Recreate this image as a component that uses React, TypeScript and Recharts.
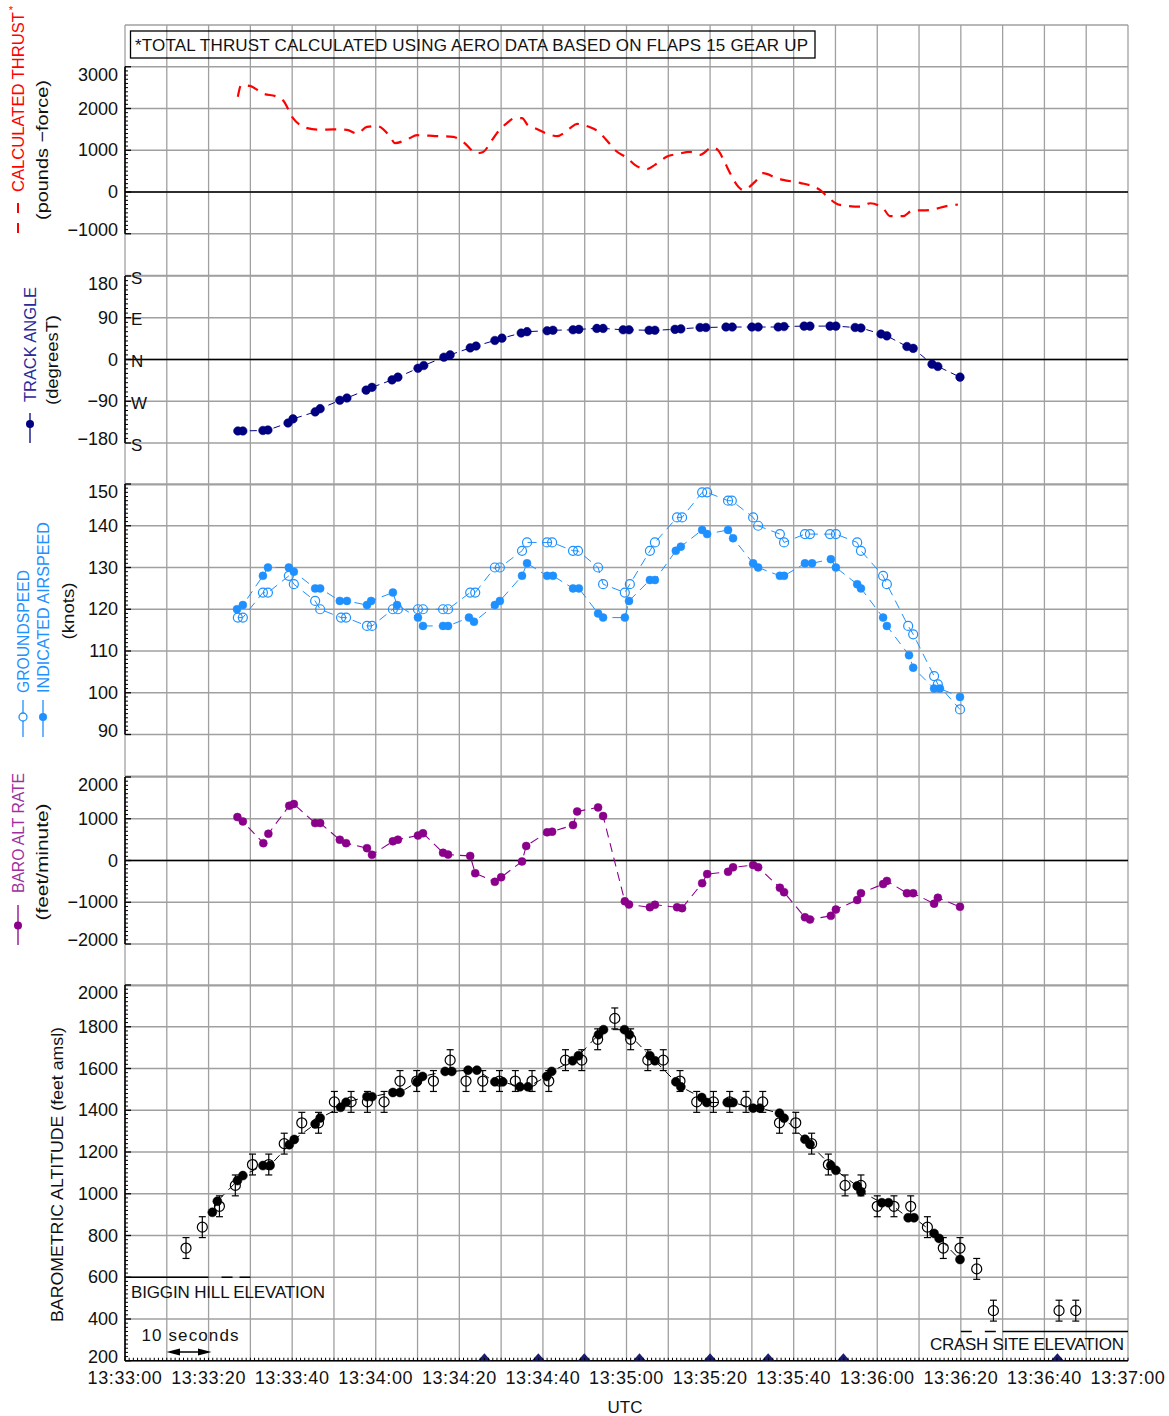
import React from 'react';
import { ComposedChart, Line, Scatter, XAxis, YAxis, CartesianGrid, ReferenceLine, ErrorBar } from 'recharts';

const FONT = "'Liberation Sans', Arial, Helvetica, sans-serif";
const CHART_W = 1161;
const MARGIN_L = 57;
const Y_W = 60;
const MARGIN_R = 41;
const PAGE_OFFSET = 8;

// ---------- time axis (seconds after 13:33:00) ----------
const START_SECONDS = 13 * 3600 + 33 * 60;
const X_DOMAIN: [number, number] = [0, 240];
const xGridValues = [0, 10, 20, 30, 40, 50, 60, 70, 80, 90, 100, 110, 120, 130, 140, 150, 160, 170, 180, 190, 200, 210, 220, 230, 240];
const xLabelValues = [0, 20, 40, 60, 80, 100, 120, 140, 160, 180, 200, 220, 240];

// ---------- data: [seconds after 13:33:00, value] ----------
const thrustPoints: [number, number][] = [
  [27.0, 2280], [27.8, 2560], [29.9, 2540], [33.0, 2360], [36.4, 2280], [37.8, 2200], [40.2, 1770], [43.6, 1530],
  [46.7, 1490], [49.8, 1500], [53.1, 1490], [55.5, 1400], [57.9, 1560], [60.3, 1580], [63.4, 1330], [64.6, 1170],
  [67.7, 1270], [69.9, 1360], [74.2, 1340], [78.5, 1320], [80.9, 1200], [84.2, 930], [85.7, 960], [87.8, 1240],
  [89.0, 1410], [91.4, 1650], [93.3, 1770], [95.0, 1770], [96.4, 1600], [98.1, 1530], [101.7, 1370], [103.4, 1340],
  [106.5, 1530], [108.2, 1630], [110.8, 1570], [113.2, 1450], [115.6, 1200], [117.3, 1000], [120.1, 820], [122.0, 650],
  [124.9, 550], [126.8, 650], [129.7, 850], [132.3, 910], [135.2, 960], [137.6, 890], [140.5, 1070], [141.9, 1000],
  [143.6, 690], [144.8, 450], [146.4, 170], [147.9, 50], [150.8, 250], [152.7, 450], [156.0, 330], [157.5, 290],
  [161.5, 220], [166.3, 50], [168.0, -110], [171.1, -310], [175.9, -350], [178.3, -270], [181.4, -390], [183.1, -580],
  [186.2, -580], [188.3, -450], [192.6, -430], [196.9, -330], [199.3, -300],
];

const trackPoints: [number, number][] = [
  [27.0, -154], [28.2, -154], [33.0, -153], [34.2, -152], [39.0, -137], [40.2, -128], [45.5, -113], [46.7, -106],
  [51.4, -88], [53.1, -83], [57.7, -66], [59.1, -60], [63.9, -44], [65.3, -38], [70.1, -19], [71.5, -13],
  [76.3, 5], [77.8, 10], [82.6, 25], [84.0, 29], [88.5, 41], [90.2, 46], [94.8, 57], [96.2, 60],
  [101.0, 62], [102.4, 63], [107.2, 64], [108.6, 65], [112.9, 67], [114.4, 67], [119.2, 64], [120.6, 64],
  [125.4, 63], [126.8, 63], [131.6, 65], [133.0, 66], [137.6, 69], [139.0, 69], [143.8, 70], [145.3, 70],
  [150.0, 70], [151.5, 70], [156.3, 70], [157.7, 71], [162.5, 72], [163.9, 72], [168.7, 72], [170.1, 72],
  [174.7, 69], [176.1, 68], [180.9, 55], [182.3, 51], [187.1, 28], [188.6, 24], [193.1, -10], [194.5, -15],
  [199.8, -38],
];

const groundspeedPoints: [number, number][] = [
  [27.0, 118], [28.2, 118], [33.0, 124], [34.2, 124], [39.2, 128], [40.4, 126], [45.5, 122], [46.7, 120],
  [51.7, 118], [52.9, 118], [57.9, 116], [59.1, 116], [64.1, 120], [65.3, 120], [70.1, 120], [71.3, 120],
  [76.1, 120], [77.3, 120], [82.6, 124], [83.8, 124], [88.5, 130], [89.7, 130], [95.0, 134], [96.2, 136],
  [101.0, 136], [102.2, 136], [107.2, 134], [108.4, 134], [113.2, 130], [114.4, 126], [119.6, 124], [120.8, 126],
  [125.6, 134], [126.8, 136], [132.1, 142], [133.3, 142], [138.1, 148], [139.3, 148], [144.3, 146], [145.2, 146],
  [150.3, 142], [151.5, 140], [156.7, 138], [157.7, 136], [162.7, 138], [163.9, 138], [168.7, 138], [170.1, 138],
  [175.2, 136], [176.1, 134], [181.4, 128], [182.3, 126], [187.4, 116], [188.6, 114], [193.6, 104], [194.5, 102],
  [199.8, 96],
];

const airspeedPoints: [number, number][] = [
  [26.8, 120], [28.2, 121], [33.0, 128], [34.2, 130], [39.2, 130], [40.4, 129], [45.5, 125], [46.7, 125],
  [51.4, 122], [53.1, 122], [57.9, 121], [58.9, 122], [64.1, 124], [65.1, 121], [70.1, 118], [71.3, 116],
  [76.1, 116], [77.3, 116], [82.3, 118], [83.5, 117], [88.5, 121], [89.7, 122], [95.0, 128], [96.2, 131],
  [101.0, 128], [102.4, 128], [107.2, 125], [108.6, 125], [113.2, 119], [114.4, 118], [119.6, 118], [120.6, 122],
  [125.6, 127], [126.8, 127], [131.8, 134], [133.0, 135], [138.1, 139], [139.3, 138], [144.3, 139], [145.5, 137],
  [150.3, 131], [151.5, 130], [156.7, 128], [157.7, 128], [162.7, 131], [164.4, 131], [168.9, 132], [170.1, 130],
  [175.2, 126], [176.1, 125], [181.4, 118], [182.3, 116], [187.6, 109], [188.6, 106], [193.6, 101], [195.0, 101],
  [199.8, 99],
];

const altRatePoints: [number, number][] = [
  [26.9, 1040], [28.2, 936], [33.1, 416], [34.3, 640], [39.3, 1312], [40.4, 1352], [45.5, 896], [46.7, 896],
  [51.4, 496], [52.9, 416], [57.9, 296], [59.1, 136], [64.1, 460], [65.3, 500], [70.1, 598], [71.3, 652],
  [76.1, 185], [77.3, 141], [82.6, 109], [83.8, -304], [88.5, -511], [90.0, -402], [95.0, -22], [96.0, 348],
  [101.0, 674], [102.2, 690], [107.2, 848], [108.2, 1174], [113.2, 1272], [114.4, 1065], [119.6, -978], [120.6, -1054],
  [125.6, -1120], [126.8, -1060], [132.1, -1120], [133.3, -1141], [138.1, -543], [139.3, -326], [144.3, -272], [145.5, -163],
  [150.3, -109], [151.5, -163], [156.7, -652], [157.7, -761], [162.7, -1359], [163.9, -1413], [168.9, -1326], [170.1, -1174],
  [175.2, -946], [176.1, -783], [181.4, -565], [182.3, -489], [187.1, -783], [188.6, -783], [193.6, -1033], [194.5, -891],
  [199.8, -1109],
];

// open circles (with +/- error) and filled circles, feet amsl
const altOpenPoints: [number, number][] = [
  [14.6, 740], [18.5, 840], [22.6, 940], [26.4, 1040], [30.5, 1140], [34.4, 1140], [38.1, 1240], [42.3, 1340],
  [46.3, 1340], [50.1, 1440], [54.1, 1440], [58.0, 1440], [62.0, 1440], [65.8, 1540], [69.8, 1540], [73.8, 1540],
  [77.8, 1640], [81.6, 1540], [85.6, 1540], [89.6, 1540], [93.4, 1540], [97.4, 1540], [101.4, 1540], [105.4, 1640],
  [109.3, 1640], [113.1, 1740], [117.2, 1840], [121.0, 1740], [125.1, 1640], [128.8, 1640], [132.8, 1540], [136.8, 1440],
  [140.8, 1440], [144.7, 1440], [148.6, 1440], [152.6, 1440], [156.6, 1340], [160.5, 1340], [164.3, 1240], [168.3, 1140],
  [172.3, 1040], [176.1, 1040], [180.0, 940], [184.0, 940], [188.0, 940], [192.0, 840], [195.8, 740], [199.8, 740],
  [203.8, 640], [207.8, 440], [223.5, 440], [227.5, 440],
];
const altErrorFt = 50;

const altFilledPoints: [number, number][] = [
  [20.9, 911], [22.1, 964], [26.9, 1063], [28.2, 1087], [33.0, 1135], [34.7, 1135], [39.3, 1235], [40.5, 1260],
  [45.5, 1334], [46.7, 1363], [51.6, 1414], [52.9, 1438], [57.9, 1465], [59.1, 1465], [64.1, 1485], [65.8, 1485],
  [69.9, 1536], [71.2, 1562], [76.6, 1586], [78.2, 1586], [82.1, 1592], [84.2, 1592], [88.5, 1536], [90.4, 1536],
  [94.5, 1512], [96.4, 1512], [100.9, 1562], [102.1, 1586], [107.1, 1637], [108.5, 1661], [113.3, 1762], [114.5, 1786],
  [119.5, 1786], [120.7, 1762], [125.6, 1661], [126.8, 1637], [131.8, 1536], [133.0, 1512], [138.0, 1461], [139.2, 1437],
  [144.1, 1437], [145.5, 1437], [150.3, 1410], [151.9, 1410], [156.6, 1386], [157.7, 1362], [162.7, 1261], [163.9, 1237],
  [168.9, 1136], [170.1, 1112], [175.2, 1037], [176.1, 1010], [181.1, 957], [182.7, 957], [187.4, 885], [188.8, 885],
  [193.6, 810], [194.8, 786], [199.8, 685],
];

const eventTimes = [86.0, 98.9, 109.9, 123.1, 140.0, 153.9, 171.9, 223.1];
const bigginHillElevationFt = 600;
const crashSiteElevationFt = 340;

// ---------- axis tick sets ----------
const thrustLabels = [-1000, 0, 1000, 2000, 3000];
const thrustGrid = [-2000, -1000, 0, 1000, 2000, 3000, 4000];
const trackLabels = [-180, -90, 0, 90, 180];
const trackGrid = [-270, -180, -90, 0, 90, 180];
const compassLetters: Record<string, string> = { '180': 'S', '90': 'E', '0': 'N', '-90': 'W', '-180': 'S' };
const speedLabels = [90, 100, 110, 120, 130, 140, 150];
const speedGrid = [80, 90, 100, 110, 120, 130, 140, 150];
const rateLabels = [-2000, -1000, 0, 1000, 2000];
const rateGrid = [-3000, -2000, -1000, 0, 1000, 2000];
const altLabels = [200, 400, 600, 800, 1000, 1200, 1400, 1600, 1800, 2000];

const COLORS = {
  thrust: '#ff0000',
  track: '#000080',
  trackText: '#2a2a9c',
  speed: '#1e90ff',
  rate: '#8b008b',
  rateText: '#a030a0',
  grid: '#a0a0a0',
  event: '#1c1c70',
};

// ---------- helpers ----------
function range(a: number, b: number, step: number) {
  const out: number[] = [];
  for (let i = 0; a + i * step <= b + 1e-9; i++) out.push(Math.round((a + i * step) * 1000) / 1000);
  return out;
}
const toPts = (arr: [number, number][]) => arr.map(([t, v]) => ({ t, v }));
const fmtNum = (v: number) => (v < 0 ? '\u2212' + Math.abs(v) : String(v));
const pad = (n: number) => String(n).padStart(2, '0');
function fmtTime(t: number) {
  const s = START_SECONDS + t;
  return `${Math.floor(s / 3600)}:${pad(Math.floor((s % 3600) / 60))}:${pad(s % 60)}`;
}

function yTickRenderer(labels: number[], compass?: Record<string, string>) {
  const lo = Math.min(...labels);
  const hi = Math.max(...labels);
  return (props: any) => {
    const { x, y, payload } = props;
    const v = payload.value;
    if (!labels.includes(v)) {
      return <line x1={x} x2={x + 3} y1={y} y2={y} stroke="#000" strokeWidth={1} />;
    }
    const dy = v === hi ? 8 : v === lo ? -4 : 0;
    return (
      <g>
        <line x1={x} x2={x + 6} y1={y} y2={y} stroke="#000" strokeWidth={1.3} />
        <text x={x - 7} y={y + dy} textAnchor="end" dominantBaseline="central" fontFamily={FONT} fontSize={18} fill="#111">
          {fmtNum(v)}
        </text>
        {compass && compass[String(v)] ? (
          <text x={x + 6} y={y + 2} textAnchor="start" dominantBaseline="central" fontFamily={FONT} fontSize={17} fill="#111">
            {compass[String(v)]}
          </text>
        ) : null}
      </g>
    );
  };
}

const xTick = (props: any) => {
  const { x, y, payload } = props;
  const v = payload.value;
  return (
    <g>
      <line x1={x} x2={x} y1={y} y2={y - 3} stroke="#000" strokeWidth={1} />
      {xLabelValues.includes(v) ? (
        <text x={x} y={y + 17} textAnchor="middle" dominantBaseline="central" fontFamily={FONT} fontSize={18} letterSpacing={0.6} fill="#111">
          {fmtTime(v)}
        </text>
      ) : null}
    </g>
  );
};

const hiddenX = <XAxis type="number" dataKey="t" domain={X_DOMAIN} hide allowDataOverflow />;

function yAxis(domain: [number, number], labels: number[], step: number, compass?: Record<string, string>) {
  const lo = Math.min(...labels);
  const hi = Math.max(...labels);
  return (
    <YAxis
      type="number"
      dataKey="v"
      domain={domain}
      ticks={range(lo, hi, step)}
      interval={0}
      tickSize={0}
      tickMargin={0}
      axisLine={false}
      tickLine={false}
      width={Y_W}
      allowDataOverflow
      tick={yTickRenderer(labels, compass)}
    />
  );
}

function grid(values: number[]) {
  return <CartesianGrid horizontalValues={values} verticalValues={xGridValues} stroke={COLORS.grid} strokeWidth={1.3} />;
}

function axisSegment(lo: number, hi: number) {
  return <ReferenceLine segment={[{ x: 0, y: lo }, { x: 0, y: hi }]} stroke="#000" strokeWidth={1.6} />;
}

const dotRenderer = (color: string, r: number, filled: boolean) => (p: any) =>
  p.cx == null ? <g key={p.key} /> : (
    <circle key={p.key} cx={p.cx} cy={p.cy} r={r} fill={filled ? color : 'none'} stroke={color} strokeWidth={filled ? 0.5 : 1.2} strokeDasharray="none" />
  );
const openCircle = (color: string, r: number) => (p: any) =>
  p.cx == null ? <g /> : <circle cx={p.cx} cy={p.cy} r={r} fill="none" stroke={color} strokeWidth={1.2} />;
const triangle = (p: any) =>
  p.cx == null ? <g /> : (
    <polygon points={`${p.cx - 6.5},${p.cy} ${p.cx + 6.5},${p.cy} ${p.cx},${p.cy - 7.5}`} fill={COLORS.event} />
  );

const margin = (top: number) => ({ top, right: MARGIN_R, bottom: 0, left: MARGIN_L });

function RotText({ x, y, children, color = '#111', size = 17, len }: any) {
  return (
    <text
      transform={`translate(${x},${y}) rotate(-90)`}
      textAnchor="middle"
      dominantBaseline="central"
      fontFamily={FONT}
      fontSize={size}
      fill={color}
      textLength={len}
      lengthAdjust="spacingAndGlyphs"
    >
      {children}
    </text>
  );
}

function Overlay() {
  return (
    <svg width={1169} height={1416} style={{ position: 'absolute', left: 0, top: 0, pointerEvents: 'none' }}>
      {/* note box */}
      <rect x={130.5} y={31} width={684.5} height={27} fill="none" stroke="#000" strokeWidth={1.3} />
      <text x={135} y={45.5} dominantBaseline="central" fontFamily={FONT} fontSize={17} fill="#111" textLength={673} lengthAdjust="spacing">
        *TOTAL THRUST CALCULATED USING AERO DATA BASED ON FLAPS 15 GEAR UP
      </text>

      {/* thrust title */}
      <line x1={18} x2={18} y1={203} y2={213} stroke={COLORS.thrust} strokeWidth={2} />
      <line x1={18} x2={18} y1={223} y2={233} stroke={COLORS.thrust} strokeWidth={2} />
      <RotText x={18} y={102} color={COLORS.thrust} len={180}>CALCULATED THRUST</RotText>
      <text x={11} y={10} fontFamily={FONT} fontSize={11} fill={COLORS.thrust} dominantBaseline="central" textAnchor="middle">*</text>
      <RotText x={42} y={150} len={140}>(pounds {'\u2212'}force)</RotText>

      {/* track title */}
      <line x1={30} x2={30} y1={413} y2={443} stroke={COLORS.track} strokeWidth={1.3} />
      <circle cx={30} cy={424} r={4} fill={COLORS.track} />
      <RotText x={30} y={344.5} color={COLORS.trackText} len={115}>TRACK ANGLE</RotText>
      <RotText x={52} y={360} len={90}>(degreesT)</RotText>

      {/* speed titles */}
      <line x1={23} x2={23} y1={700} y2={737} stroke={COLORS.speed} strokeWidth={1.3} />
      <circle cx={23} cy={717} r={4} fill="#fff" stroke={COLORS.speed} strokeWidth={1.3} />
      <RotText x={23} y={631.5} color={COLORS.speed} len={123}>GROUNDSPEED</RotText>
      <line x1={43} x2={43} y1={700} y2={737} stroke={COLORS.speed} strokeWidth={1.3} />
      <circle cx={43} cy={717} r={4} fill={COLORS.speed} />
      <RotText x={43} y={607.5} color={COLORS.speed} len={171}>INDICATED AIRSPEED</RotText>
      <RotText x={68} y={611} len={57}>(knots)</RotText>

      {/* rate titles */}
      <line x1={18} x2={18} y1={905} y2={945} stroke={COLORS.rate} strokeWidth={1.3} />
      <circle cx={18} cy={925.5} r={4} fill={COLORS.rate} />
      <RotText x={18} y={833} color={COLORS.rateText} len={120}>BARO ALT RATE</RotText>
      <RotText x={42} y={862} len={117}>(feet/minute)</RotText>

      {/* altitude title */}
      <RotText x={57} y={1174.5} len={295}>BAROMETRIC ALTITUDE (feet amsl)</RotText>

      {/* annotations */}
      <text x={131} y={1292} dominantBaseline="central" fontFamily={FONT} fontSize={17} fill="#111" textLength={194} lengthAdjust="spacing">
        BIGGIN HILL ELEVATION
      </text>
      <text x={1124} y={1344} textAnchor="end" dominantBaseline="central" fontFamily={FONT} fontSize={17} fill="#111" textLength={194} lengthAdjust="spacing">
        CRASH SITE ELEVATION
      </text>
      <text x={141.5} y={1335.5} dominantBaseline="central" fontFamily={FONT} fontSize={17} fill="#111" textLength={97} lengthAdjust="spacing">
        10 seconds
      </text>
      <line x1={170} x2={208} y1={1352} y2={1352} stroke="#000" strokeWidth={1.5} />
      <polygon points="166.5,1352 180,1348.5 180,1355.5" fill="#000" />
      <polygon points="211.5,1352 198,1348.5 198,1355.5" fill="#000" />

      <text x={625} y={1407} textAnchor="middle" dominantBaseline="central" fontFamily={FONT} fontSize={17} fill="#111">UTC</text>
    </svg>
  );
}

function Slot({ top, children }: any) {
  return <div style={{ position: 'absolute', left: PAGE_OFFSET, top: PAGE_OFFSET + top }}>{children}</div>;
}

export default function App() {
  const thrustData = toPts(thrustPoints);
  const trackData = toPts(trackPoints);
  const gsData = toPts(groundspeedPoints);
  const iasData = toPts(airspeedPoints);
  const rateData = toPts(altRatePoints);
  const altOpenData = altOpenPoints.map(([t, v]) => ({ t, v, err: altErrorFt }));
  const altFilledData = toPts(altFilledPoints);
  const eventData = eventTimes.map((t) => ({ t, v: 200 }));

  return (
    <div style={{ position: 'relative', width: 1169, height: 1416, background: '#fff', overflow: 'hidden' }}>
      <style>{'html,body{margin:0;padding:0;overflow:hidden}.recharts-surface{overflow:visible}'}</style>
      {/* thrust */}
      <Slot top={0}>
        <ComposedChart width={CHART_W} height={267.5} margin={margin(17)}>
          {grid(thrustGrid)}
          {hiddenX}
          {yAxis([-2000, 4000], thrustLabels, 100)}
          <ReferenceLine y={0} stroke="#000" strokeWidth={1.4} />
          {axisSegment(-1000, 3000)}
          <Line data={thrustData} dataKey="v" type="monotone" stroke={COLORS.thrust} strokeWidth={2.2} strokeDasharray="11 8" dot={false} isAnimationActive={false} />
        </ComposedChart>
      </Slot>

      {/* track angle */}
      <Slot top={267.5}>
        <ComposedChart width={CHART_W} height={208.75} margin={margin(0)}>
          {grid(trackGrid)}
          {hiddenX}
          {yAxis([-270, 180], trackLabels, 10, compassLetters)}
          <ReferenceLine y={0} stroke="#000" strokeWidth={1.4} />
          {axisSegment(-180, 180)}
          <Line data={trackData} dataKey="v" type="linear" stroke={COLORS.track} strokeWidth={1} strokeDasharray="7 5"
            dot={dotRenderer(COLORS.track, 4.3, true)} isAnimationActive={false} />
        </ComposedChart>
      </Slot>

      {/* speeds */}
      <Slot top={476.25}>
        <ComposedChart width={CHART_W} height={292.25} margin={margin(0)}>
          {grid(speedGrid)}
          {hiddenX}
          {yAxis([80, 150], speedLabels, 1)}
          {axisSegment(90, 150)}
          <Line data={gsData} dataKey="v" type="linear" stroke={COLORS.speed} strokeWidth={1} strokeDasharray="9 6"
            dot={dotRenderer(COLORS.speed, 4.5, false)} isAnimationActive={false} />
          <Line data={iasData} dataKey="v" type="linear" stroke={COLORS.speed} strokeWidth={1} strokeDasharray="9 6"
            dot={dotRenderer(COLORS.speed, 4, true)} isAnimationActive={false} />
        </ComposedChart>
      </Slot>

      {/* baro alt rate */}
      <Slot top={768.5}>
        <ComposedChart width={CHART_W} height={208.75} margin={margin(0)}>
          {grid(rateGrid)}
          {hiddenX}
          {yAxis([-3000, 2000], rateLabels, 100)}
          <ReferenceLine y={0} stroke="#000" strokeWidth={1.4} />
          {axisSegment(-2000, 2000)}
          <Line data={rateData} dataKey="v" type="linear" stroke={COLORS.rate} strokeWidth={1.1} strokeDasharray="9 6"
            dot={dotRenderer(COLORS.rate, 4, true)} isAnimationActive={false} />
        </ComposedChart>
      </Slot>

      {/* altitude */}
      <Slot top={977.25}>
        <ComposedChart width={CHART_W} height={415.75} margin={margin(0)}>
          {grid(altLabels)}
          <XAxis
            type="number"
            dataKey="t"
            domain={X_DOMAIN}
            ticks={range(0, 240, 1)}
            interval={0}
            tickSize={0}
            tickMargin={0}
            height={40}
            allowDataOverflow
            axisLine={{ stroke: '#000', strokeWidth: 1.6 }}
            tickLine={false}
            tick={xTick}
          />
          {yAxis([200, 2000], altLabels, 20)}
          {axisSegment(200, 2000)}
          <ReferenceLine segment={[{ x: 0, y: bigginHillElevationFt }, { x: 20, y: bigginHillElevationFt }]} stroke="#000" strokeWidth={1.5} />
          <ReferenceLine segment={[{ x: 23.1, y: bigginHillElevationFt }, { x: 30, y: bigginHillElevationFt }]} stroke="#000" strokeWidth={1.5} strokeDasharray="11 7" />
          <ReferenceLine segment={[{ x: 200, y: crashSiteElevationFt }, { x: 208.6, y: crashSiteElevationFt }]} stroke="#000" strokeWidth={1.5} strokeDasharray="11 13" />
          <ReferenceLine segment={[{ x: 210, y: crashSiteElevationFt }, { x: 240, y: crashSiteElevationFt }]} stroke="#000" strokeWidth={1.5} />
          <Line data={altFilledData} dataKey="v" type="linear" stroke="#000" strokeWidth={1} strokeDasharray="8 6"
            dot={dotRenderer('#000', 4.5, true)} isAnimationActive={false} />
          <Scatter data={altOpenData} dataKey="v" shape={openCircle('#000', 5)} isAnimationActive={false}>
            <ErrorBar dataKey="err" direction="y" width={3.5} stroke="#000" strokeWidth={1.2} isAnimationActive={false} />
          </Scatter>
          <Scatter data={eventData} dataKey="v" shape={triangle} isAnimationActive={false} />
        </ComposedChart>
      </Slot>

      <Overlay />
    </div>
  );
}
